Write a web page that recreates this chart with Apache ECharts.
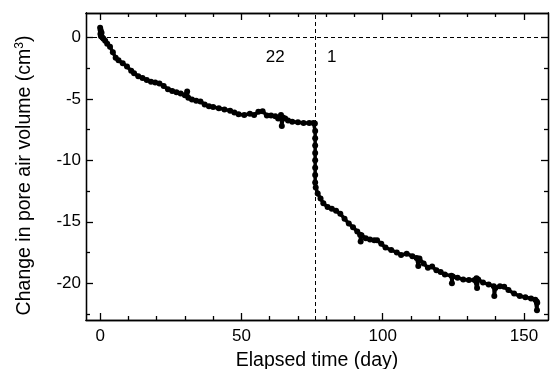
<!DOCTYPE html>
<html>
<head>
<meta charset="utf-8">
<script src="https://cdn.jsdelivr.net/npm/echarts@6/dist/echarts.min.js"></script>
<style>html,body{margin:0;padding:0;background:#fff}#c{width:550px;height:369px}</style>
</head>
<body>
<div id="c"></div>
<script>
// ---- data ----
const elapsedDays = [0,0.1,0.2,0.3,0.5,0.8,1.2,1.8,2.5,3.5,4.5,5.5,6.5,8,9.5,11,12,13.5,15,16.5,18,19.5,21,22.5,24,25.5,27,28.5,30,30.8,31.2,32.5,34,35.5,37,38.5,40,42,44,46,47.5,49,51,53,54.5,56,57.5,59,60.5,62,63,64,64.3,64.7,65.5,66.5,68,70,72,74,75.5,76,76.1,76.1,76.1,76.1,76.1,76.1,76.1,76.1,76.3,77,78,79,80.5,82,83.5,85,86.5,88,89.5,91,92,92.2,92.5,94,95.5,97,98,99.5,101,103,105,106.5,108.5,110.5,112,112.6,113,114.5,116,117.5,119,120.5,122,124.3,124.5,124.8,126.5,128.5,130.5,132.5,133.2,133.4,133.8,135.5,137.5,139.3,139.5,139.9,141.5,143,144.5,146.5,148.5,150.5,152.5,154,154.5,154.6,154.7];
const poreAirChange = [0.8,0.3,0.6,0.1,0.4,0,-0.1,-0.25,-0.5,-0.75,-1.2,-1.65,-1.85,-2.1,-2.35,-2.7,-2.9,-3.15,-3.3,-3.45,-3.6,-3.65,-3.75,-3.95,-4.2,-4.35,-4.45,-4.55,-4.7,-4.4,-4.9,-5.05,-5.15,-5.2,-5.45,-5.6,-5.65,-5.75,-5.85,-5.95,-6.1,-6.25,-6.3,-6.2,-6.3,-6.05,-6.0,-6.35,-6.35,-6.4,-6.6,-6.3,-7.2,-6.5,-6.6,-6.75,-6.85,-6.9,-6.95,-6.95,-6.95,-7.0,-7.6,-8.2,-8.8,-9.4,-10,-10.6,-11.2,-11.8,-12.2,-12.7,-13.1,-13.5,-13.8,-13.95,-14.1,-14.35,-14.75,-15.15,-15.45,-15.8,-16.05,-16.6,-16.1,-16.35,-16.45,-16.5,-16.5,-16.8,-17.1,-17.3,-17.5,-17.7,-17.6,-17.8,-17.95,-18.6,-18.0,-18.4,-18.75,-18.65,-18.95,-19.1,-19.3,-19.4,-20.0,-19.45,-19.55,-19.7,-19.75,-19.75,-19.6,-20.4,-19.7,-19.95,-20.1,-20.25,-21.05,-20.4,-20.25,-20.3,-20.55,-20.85,-21.05,-21.15,-21.25,-21.35,-21.5,-22.2,-21.6];
const xMajorTicks = [0,50,100,150];
const xMinorTicks = [10,20,30,40,60,70,80,90,110,120,130,140];
const yMajorTicks = [0,-5,-10,-15,-20];
const yMinorTicks = [-2.5,-7.5,-12.5,-17.5,-22.5];
const refLineX = 76.1;
const refLineY = 0;
const annotText = ['22','1'];
const annotX = [62,82];
const annotY = [-1.6,-1.6];

const X_MIN=-5, X_MAX=158.5, Y_MIN=-23, Y_MAX=2;
const FONT='Liberation Sans, Arial, sans-serif';
const black='#000';
const gridRect={left:86,right:2,top:13,bottom:49,outerBoundsMode:'none',containLabel:false};

function xAx(gi,pos,ticks,len,labels,extra){
  return Object.assign({type:'value',gridIndex:gi,position:pos,min:X_MIN,max:X_MAX,
    axisLine:{show:true,onZero:false,lineStyle:{color:black,width:1.3}},
    axisTick:{show:true,inside:true,length:len,customValues:ticks,lineStyle:{color:black,width:1.3}},
    axisLabel:labels?{show:true,customValues:ticks,color:black,fontSize:17,fontFamily:FONT,margin:8}:{show:false},
    splitLine:{show:false}},extra||{});
}
function yAx(gi,pos,ticks,len,labels,extra){
  return Object.assign({type:'value',gridIndex:gi,position:pos,min:Y_MIN,max:Y_MAX,
    axisLine:{show:true,onZero:false,lineStyle:{color:black,width:1.3}},
    axisTick:{show:true,inside:true,length:len,customValues:ticks,lineStyle:{color:black,width:1.3}},
    axisLabel:labels?{show:true,customValues:ticks,color:black,fontSize:17,fontFamily:FONT,margin:5}:{show:false},
    splitLine:{show:false}},extra||{});
}

const chart=echarts.init(document.getElementById('c'),null,{renderer:'canvas'});
chart.setOption({
  animation:false,
  backgroundColor:'#fff',
  grid:[Object.assign({},gridRect),Object.assign({},gridRect)],
  xAxis:[
    xAx(0,'bottom',xMajorTicks,7,true,{name:'Elapsed time (day)',nameLocation:'middle',nameGap:31,
      nameTextStyle:{color:black,fontSize:19.5,fontFamily:FONT}}),
    xAx(0,'top',xMajorTicks,7,false),
    xAx(1,'bottom',xMinorTicks,4,false),
    xAx(1,'top',xMinorTicks,4,false)
  ],
  yAxis:[
    yAx(0,'left',yMajorTicks,7,true,{name:'{a|Change in pore air volume (cm}{s|3}{a|)}',nameLocation:'middle',nameGap:51,
      nameTextStyle:{color:black,fontFamily:FONT,padding:[0,18,0,0],rich:{a:{fontSize:19.5,fontFamily:FONT,color:black},s:{fontSize:12,fontFamily:FONT,color:black,verticalAlign:'bottom',padding:[0,0,9,0]}}}}),
    yAx(0,'right',yMajorTicks,7,false),
    yAx(1,'left',yMinorTicks,4,false),
    yAx(1,'right',yMinorTicks,4,false)
  ],
  series:[
    {type:'line',xAxisIndex:0,yAxisIndex:0,
     data:elapsedDays.map((d,i)=>[d,poreAirChange[i]]),
     symbol:'circle',symbolSize:6,showAllSymbol:true,
     itemStyle:{color:black},lineStyle:{color:black,width:3.5},
     markLine:{silent:true,symbol:'none',label:{show:false},
       lineStyle:{color:black,width:1,type:[4,3]},
       data:[{yAxis:refLineY},{xAxis:refLineX}]}},
    {type:'scatter',xAxisIndex:0,yAxisIndex:0,symbol:'circle',symbolSize:1,silent:true,
     itemStyle:{color:'rgba(0,0,0,0)',opacity:1},
     data:annotText.map((t,i)=>({value:[annotX[i],annotY[i]],name:t})),
     label:{show:true,position:'inside',formatter:p=>p.name,color:black,opacity:1,fontSize:17,fontFamily:FONT}}
  ]
});
</script>
</body>
</html>
